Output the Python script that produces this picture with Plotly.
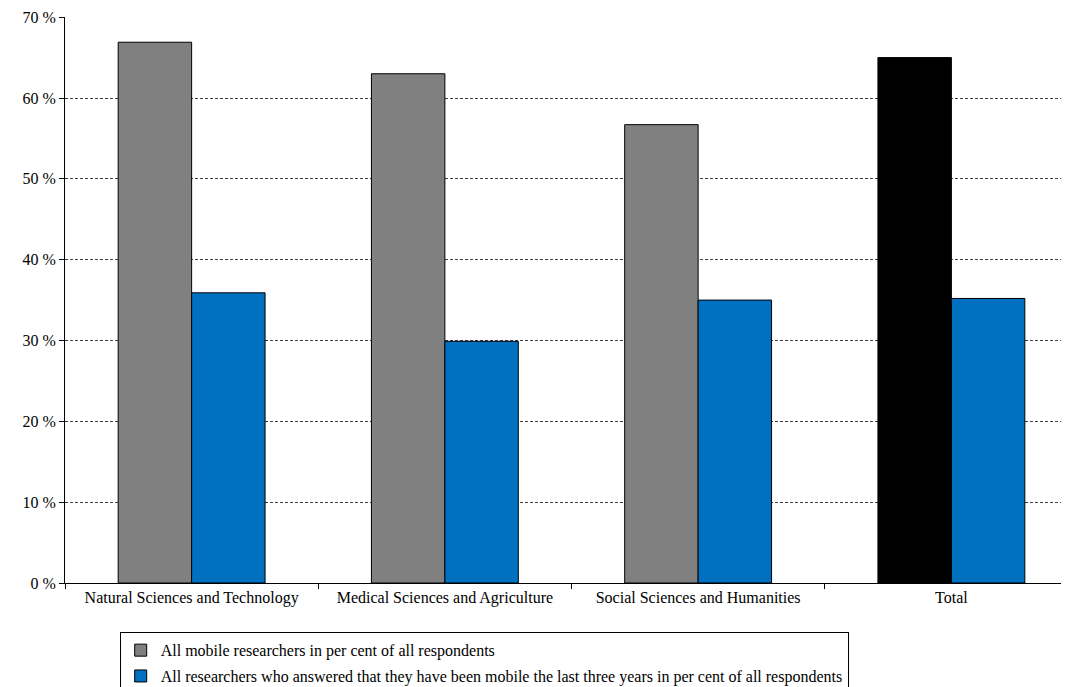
import plotly.graph_objects as go

# categories and values
categories = ["Natural Sciences and Technology", "Medical Sciences and Agriculture",
              "Social Sciences and Humanities", "Total"]
all_mobile = [66.9, 63.0, 56.7, 65.0]
mobile_last_three_years = [35.9, 29.9, 35.0, 35.2]

series_names = ["All mobile researchers in per cent of all respondents",
                "All researchers who answered that they have been mobile the last three years in per cent of all respondents"]

y_ticks = [0, 10, 20, 30, 40, 50, 60, 70]
y_tick_labels = [f"{v} %" for v in y_ticks]

font_family = "Liberation Serif"

fig = go.Figure()

# gray bars, the Total one is black
fig.add_trace(go.Bar(
    x=categories, y=all_mobile, name=series_names[0], legendgroup="a",
    marker=dict(color=["#808080", "#808080", "#808080", "#000000"],
                line=dict(color="#000000", width=1)),
))
fig.add_trace(go.Bar(
    x=categories, y=mobile_last_three_years, name=series_names[1], legendgroup="b",
    marker=dict(color="#0070C0", line=dict(color="#000000", width=1)),
))

# page body adds 8px margin; plot area runs a little past the right edge like the original
fig.update_layout(
    width=1070, height=679,
    margin=dict(l=57, r=0, t=9, b=104, autoexpand=False),
    paper_bgcolor="white", plot_bgcolor="white",
    barmode="group", bargap=0.42, bargroupgap=0,
    font=dict(family=font_family, size=16, color="black"),
    showlegend=True,
    legend=dict(
        x=0.054, y=-0.087, xanchor="left", yanchor="top",
        orientation="v", bordercolor="#000000", borderwidth=1,
        bgcolor="white", font=dict(family=font_family, size=16),
        traceorder="grouped", tracegroupgap=2,
    ),
)

fig.update_xaxes(
    showline=True, linecolor="black", linewidth=1,
    ticks="outside", tickson="boundaries", ticklen=5, tickcolor="black",
    showgrid=False, tickfont=dict(family=font_family, size=16),
)
fig.update_yaxes(
    range=[0, 70.02], tickvals=y_ticks, ticktext=y_tick_labels,
    showline=True, linecolor="black", linewidth=1,
    ticks="outside", ticklen=5, tickcolor="black",
    showgrid=True, gridcolor="#404040", gridwidth=1, griddash="3px,2px",
    zeroline=False, tickfont=dict(family=font_family, size=16),
)

fig.write_html("out.html")
